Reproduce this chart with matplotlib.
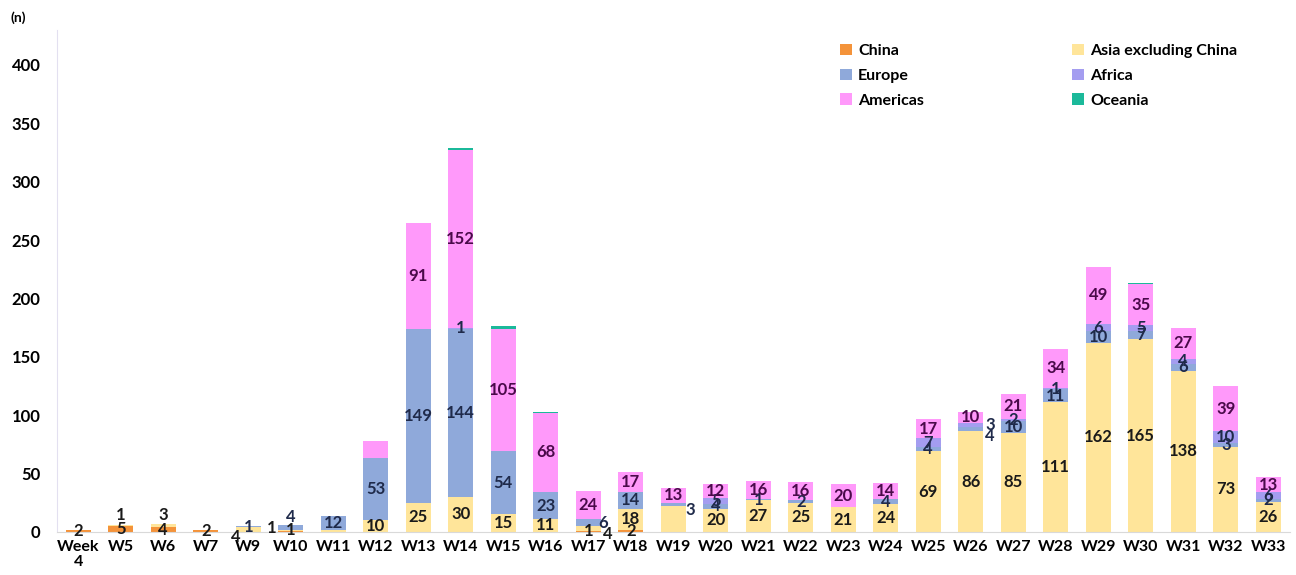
import numpy as np
import matplotlib.pyplot as plt

plt.rcParams['font.family'] = ['Lato', 'DejaVu Sans']

# ---- data (cases per week, stacked by region) ----
weeks = ['Week\n4', 'W5', 'W6', 'W7', 'W9', 'W10', 'W11', 'W12', 'W13', 'W14',
         'W15', 'W16', 'W17', 'W18', 'W19', 'W20', 'W21', 'W22', 'W23', 'W24',
         'W25', 'W26', 'W27', 'W28', 'W29', 'W30', 'W31', 'W32', 'W33']

china    = [2, 5, 4, 2, 0, 1, 0, 0, 0, 0, 0, 0, 1, 2, 0, 0, 0, 0, 0, 0,
            0, 0, 0, 0, 0, 0, 0, 0, 0]
asia     = [0, 1, 3, 0, 4, 1, 2, 10, 25, 30, 15, 11, 4, 18, 22, 20, 27, 25, 21, 24,
            69, 86, 85, 111, 162, 165, 138, 73, 26]
europe   = [0, 0, 0, 0, 1, 4, 12, 53, 149, 144, 54, 23, 6, 14, 3, 4, 1, 2, 0, 4,
            4, 4, 10, 11, 10, 7, 6, 3, 2]
africa   = [0, 0, 0, 0, 0, 0, 0, 0, 0, 1, 0, 0, 0, 0, 0, 5, 0, 0, 0, 0,
            7, 3, 2, 1, 6, 5, 4, 10, 6]
americas = [0, 0, 0, 0, 0, 0, 0, 15, 91, 152, 105, 68, 24, 17, 13, 12, 16, 16, 20, 14,
            17, 10, 21, 34, 49, 35, 27, 39, 13]
oceania  = [0, 0, 0, 0, 0, 0, 0, 0, 0, 2, 2, 1, 0, 0, 0, 0, 0, 0, 0, 0,
            0, 0, 0, 0, 0, 1, 0, 0, 0]

series = [
    ('China', china, '#F4933A', '#1a1a1a'),
    ('Asia excluding China', asia, '#FFE59A', '#1a1a1a'),
    ('Europe', europe, '#8FA9DA', '#1f2a4a'),
    ('Africa', africa, '#A49DF0', '#1f2a4a'),
    ('Americas', americas, '#FF99FA', '#4a0a4a'),
    ('Oceania', oceania, '#1BB99A', '#1a1a1a'),
]

# labels that the reference draws next to / above the bar instead of centred on it
label_offsets = {
    (1, 'Asia excluding China'): (0, 9),
    (2, 'Asia excluding China'): (0, 9),
    (4, 'Asia excluding China'): (-0.3, -6),
    (5, 'China'): (-0.45, 3),
    (5, 'Europe'): (0, 9),
    (12, 'Asia excluding China'): (0.45, -5),
    (12, 'Europe'): (0.35, 0),
    (14, 'Europe'): (0.4, -5),
    (21, 'Europe'): (0.45, -6),
    (21, 'Africa'): (0.45, 0),
}
# segments whose numbers are not printed in the reference
hidden = {(6, 'Asia excluding China'), (7, 'Americas'), (14, 'Asia excluding China'),
          (9, 'Oceania'), (10, 'Oceania'), (11, 'Oceania'), (25, 'Oceania')}

fig = plt.figure(figsize=(12.96, 5.75), dpi=100)
ax = fig.add_axes([0.044, 0.075, 0.951, 0.873])

x = np.arange(len(weeks))
bottom = np.zeros(len(weeks))
for name, vals, color, tcolor in series:
    vals = np.array(vals, dtype=float)
    ax.bar(x, vals, 0.58, bottom=bottom, color=color, label=name, zorder=2)
    for i, v in enumerate(vals):
        if v <= 0 or (i, name) in hidden:
            continue
        dx, dy = label_offsets.get((i, name), (0, 0))
        ax.text(x[i] + dx, bottom[i] + v / 2 + dy, f'{int(v)}', ha='center',
                va='center', fontsize=12, fontweight='bold', color=tcolor, zorder=3)
    bottom += vals

ax.set_xlim(-0.5, len(weeks) - 0.5)
ax.set_ylim(0, 430)
ax.set_yticks(np.arange(0, 401, 50))
ax.set_xticks(x)
ax.set_xticklabels(weeks, fontsize=11.5, fontweight='bold', linespacing=1.05)
for lab in ax.get_yticklabels():
    lab.set_fontsize(12)
    lab.set_fontweight('bold')
ax.tick_params(length=0)
ax.tick_params(axis='y', pad=12)
ax.tick_params(axis='x', pad=6)

for s in ['top', 'right']:
    ax.spines[s].set_visible(False)
ax.spines['left'].set_color('#e3e0f0')
ax.spines['bottom'].set_color('#d9d9d9')

fig.text(0.008, 0.962, '(n)', fontsize=10, fontweight='bold')

# legend: order so the two columns read like the reference
h, l = ax.get_legend_handles_labels()
order = [0, 2, 4, 1, 3, 5]
ax.legend([h[k] for k in order], [l[k] for k in order], ncol=2, frameon=False,
          loc='upper left', bbox_to_anchor=(0.624, 1.0),
          handlelength=0.7, handleheight=0.7, handletextpad=0.4,
          columnspacing=9.3, labelspacing=0.65,
          prop={'weight': 'bold', 'size': 11.5})

plt.savefig('out.png', dpi=100)
